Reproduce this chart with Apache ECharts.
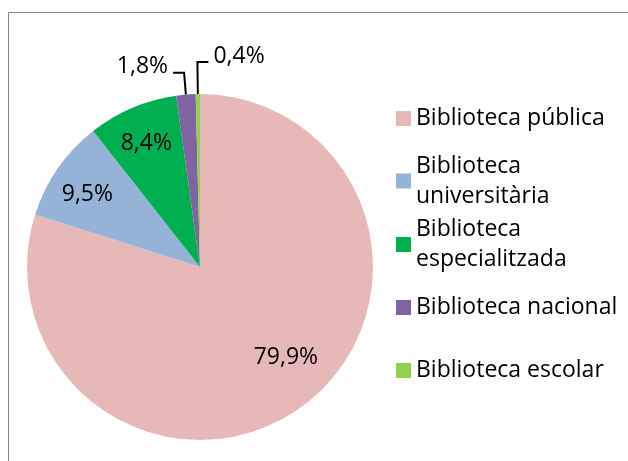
<!DOCTYPE html>
<html>
<head>
<meta charset="utf-8">
<script src="https://cdn.jsdelivr.net/npm/echarts@6/dist/echarts.min.js"></script>
<style>html,body{margin:0;padding:0;background:#fff;}#c{width:628px;height:461px;}</style>
</head>
<body>
<div id="c"></div>
<script>
const categories = ['Biblioteca pública', 'Biblioteca universitària', 'Biblioteca especialitzada', 'Biblioteca nacional', 'Biblioteca escolar'];
const legendLabels = ['Biblioteca pública', 'Biblioteca\nuniversitària', 'Biblioteca\nespecialitzada', 'Biblioteca nacional', 'Biblioteca escolar'];
const values = [79.9, 9.5, 8.4, 1.8, 0.4];
const colors = ['#E6B9B8', '#95B3D7', '#00B050', '#8064A2', '#92D050'];

const FONT = '"Open Sans"';
const FS = 23;
const CX = 200, CY = 267, R = 173;
const fmt = v => v.toFixed(1).replace('.', ',') + '%';

const mainData = categories.map((name, i) => ({
  name, value: values[i],
  itemStyle: { color: colors[i] },
  label: { show: values[i] < 5 },
  labelLine: { show: values[i] < 5, length: i === 4 ? 32 : 22, length2: 11 }
}));
const overlayData = categories.map((name, i) => ({
  name, value: values[i],
  label: { show: values[i] >= 5 }
}));

const legendCenters = [118.5, 181, 244.5, 307.5, 370.5];
const legends = categories.map((name, i) => {
  const twoLine = legendLabels[i].indexOf('\n') >= 0;
  return {
    data: [name],
    orient: 'vertical',
    left: 396,
    top: legendCenters[i] - (twoLine ? 45 : 15),
    padding: 0,
    itemWidth: 15, itemHeight: 15, itemGap: 0,
    icon: 'rect',
    selectedMode: false,
    formatter: () => legendLabels[i],
    textStyle: {
      fontFamily: FONT, fontSize: FS, color: '#000', lineHeight: 30,
      padding: twoLine ? [30, 0, 0, 0] : 0
    }
  };
});

const chart = echarts.init(document.getElementById('c'), null, { renderer: 'canvas' });
chart.setOption({
  animation: false,
  backgroundColor: '#fff',
  legend: legends,
  graphic: [{
    type: 'rect', shape: { x: 8.5, y: 12.5, width: 800, height: 600 },
    style: { fill: null, stroke: '#868686', lineWidth: 1 }, silent: true
  }],
  series: [{
    type: 'pie',
    center: [CX, CY],
    radius: [0, R],
    startAngle: 90,
    clockwise: true,
    avoidLabelOverlap: false,
    data: mainData,
    itemStyle: { borderWidth: 0 },
    label: {
      position: 'outside', formatter: p => fmt(p.value),
      fontFamily: FONT, fontSize: FS, color: '#000', distanceToLabelLine: 5
    },
    labelLine: { lineStyle: { color: '#000', width: 2 }, smooth: false },
    labelLayout: function (params) {
      if (params.dataIndex === 4 && params.labelLinePoints) {
        const p = params.labelLinePoints;
        const p1 = p[1], p2 = p[2];
        const nx = p1[0] + (p1[0] - p2[0]);
        return {
          labelLinePoints: [p[0], p1, [nx, p2[1]]],
          x: nx + 5,
          y: p2[1] - 6,
          align: 'left',
          verticalAlign: 'middle'
        };
      }
      if (params.dataIndex === 3 && params.labelLinePoints) {
        return { dy: -6 };
      }
      return {};
    },
    emphasis: { disabled: true }
  }, {
    type: 'pie',
    center: [CX, CY],
    radius: [R * 0.55, R],
    startAngle: 90,
    clockwise: true,
    silent: true,
    data: overlayData,
    itemStyle: { color: 'rgba(0,0,0,0)', borderWidth: 0 },
    label: {
      position: 'inside', formatter: p => fmt(p.value),
      fontFamily: FONT, fontSize: FS, color: '#000'
    },
    labelLine: { show: false },
    labelLayout: function (params) {
      if (params.dataIndex === 0) return { dx: 5, dy: -20 };
      if (params.dataIndex === 1) return { dy: 6 };
      if (params.dataIndex === 2) return { dy: 3 };
      return {};
    },
    emphasis: { disabled: true },
    tooltip: { show: false }
  }]
});
</script>
</body>
</html>
